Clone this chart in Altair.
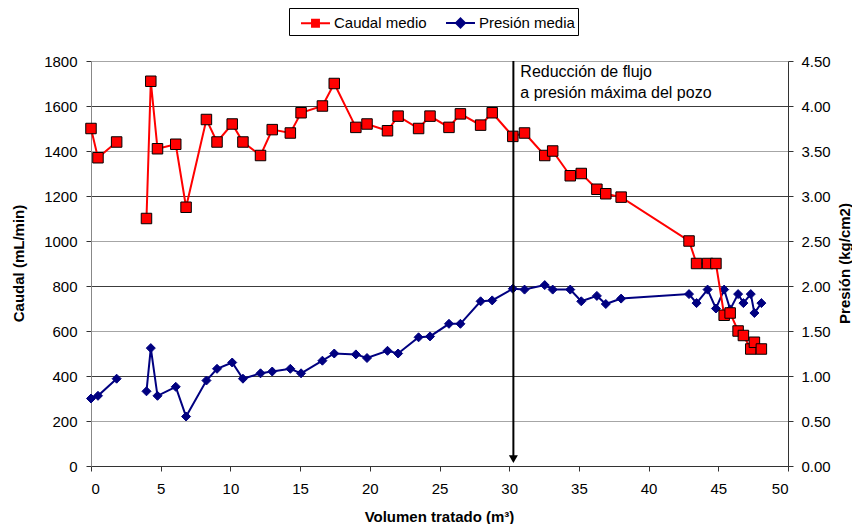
import altair as alt
import pandas as pd

# ---- data ----
volumen = [0, 0.5, 1.84, 3.98, 4.29, 4.77, 6.08, 6.82, 8.28, 9.04, 10.13, 10.9,
           12.16, 13.0, 14.3, 15.07, 16.6, 17.45, 19.0, 19.8, 21.27, 22.03, 23.5,
           24.32, 25.68, 26.5, 27.95, 28.78, 30.26, 31.1, 32.55, 33.12, 34.38,
           35.17, 36.29, 36.93, 38.03, 42.9, 43.44, 44.23, 44.83, 45.42, 45.85,
           46.42, 46.8, 47.33, 47.59, 48.09]
caudal = [1500, 1370, 1440, 1100, 1710, 1410, 1430, 1150, 1540, 1440, 1520, 1440,
          1380, 1495, 1480, 1570, 1600, 1700, 1505, 1520, 1490, 1555, 1500,
          1555, 1505, 1565, 1515, 1570, 1465, 1480, 1380, 1400, 1290,
          1300, 1230, 1210, 1195, 1000, 900, 900, 900, 670, 680,
          600, 580, 520, 550, 520]
presion = [0.75, 0.78, 0.97, 0.83, 1.31, 0.78, 0.88, 0.55, 0.95, 1.08, 1.15, 0.97,
           1.03, 1.05, 1.08, 1.03, 1.17, 1.25, 1.24, 1.20, 1.28, 1.25, 1.43,
           1.44, 1.58, 1.58, 1.83, 1.84, 1.97, 1.96, 2.01, 1.96, 1.96,
           1.83, 1.89, 1.80, 1.86, 1.91, 1.81, 1.96, 1.75, 1.96, 1.74,
           1.91, 1.81, 1.91, 1.70, 1.81]
tramo = [0, 0, 0] + [1] * 45          # line is broken between 1.84 and 3.98

series = ["Caudal medio", "Presión media"]
colores = ["#ff0000", "#000080"]
simbolos = ["M-1.38,0H1.38M-0.33,-0.33H0.33V0.33H-0.33Z",
            "M-1.38,0H1.38M0,-0.43L0.43,0L0,0.43L-0.43,0Z"]

x_ticks = [0, 5, 10, 15, 20, 25, 30, 35, 40, 45, 50]
y_ticks = [0, 200, 400, 600, 800, 1000, 1200, 1400, 1600, 1800]
y2_ticks = [0, 0.5, 1.0, 1.5, 2.0, 2.5, 3.0, 3.5, 4.0, 4.5]

flecha_x = [30.3]
flecha_y = [1800]
flecha_y2 = [31]
nota_x = [30.8, 30.8]
nota_y = [1752, 1656]
nota_txt = ["Reducción de flujo", "a presión máxima del pozo"]

FONT = "Liberation Sans"

df_c = pd.DataFrame({"vol": volumen, "valor": caudal, "tramo": tramo})
df_p = pd.DataFrame({"vol": volumen, "valor": presion, "tramo": tramo})
df_f = pd.DataFrame({"x": flecha_x, "y": flecha_y, "y2": flecha_y2})
df_n = pd.DataFrame({"x": nota_x, "y": nota_y, "t": nota_txt})
df_l = pd.DataFrame({"serie": series})

x_enc = alt.X("vol:Q", scale=alt.Scale(domain=[0, 50], nice=False),
              axis=alt.Axis(values=x_ticks, title="Volumen tratado (m³)", grid=False,
                            titleX=348, titleY=50, titleAlign="center",
                            titleBaseline="middle"))

yc_scale = alt.Scale(domain=[0, 1800], nice=False)
yp_scale = alt.Scale(domain=[0, 4.5], nice=False)

yc_axis = alt.Axis(values=y_ticks, orient="left", title="Caudal (mL/min)",
                   format="d", grid=True,
                   gridColor={"condition": {"test": "datum.value % 400 === 0", "value": "#3c3c3c"},
                              "value": "#a6a6a6"},
                   titleX=-73, titleY=202, titleAngle=-90,
                   titleAlign="center", titleBaseline="middle",
                   labelPadding=9, domainColor="#888888")
yp_axis = alt.Axis(values=y2_ticks, orient="right", title="Presión (kg/cm2)",
                   format=".2f", grid=False, titleX=56, titleY=202,
                   titleAngle=-90, titleAlign="center", titleBaseline="middle",
                   labelPadding=8, domainColor="#333333")

leyenda = alt.Legend(title=None, orient="none", direction="horizontal",
                     legendX=198, legendY=-53, padding=3,
                     strokeColor="#000000", fillColor="#ffffff",
                     symbolSize=441, symbolStrokeWidth=2, symbolOpacity=1,
                     symbolOffset=12,
                     labelFontSize=15, labelFont=FONT, labelColor="#000000",
                     columnPadding=10, labelOffset=7)

# Presión (right axis)
p_line = alt.Chart(df_p).mark_line(color="#000080", strokeWidth=2).encode(
    x=x_enc, y=alt.Y("valor:Q", scale=yp_scale, axis=yp_axis), detail="tramo:N")
p_pts = alt.Chart(df_p).mark_point(shape="diamond", filled=True, size=81,
                                   fill="#000080", stroke="#000080",
                                   strokeWidth=1, opacity=1).encode(
    x="vol:Q", y=alt.Y("valor:Q", scale=yp_scale, axis=yp_axis))
capa_p = alt.layer(p_line, p_pts)

# Caudal (left axis) + annotation
yc = lambda f: alt.Y(f, scale=yc_scale, axis=yc_axis)
c_line = alt.Chart(df_c).mark_line(color="#ff0000", strokeWidth=2).encode(
    x=x_enc, y=yc("valor:Q"), detail="tramo:N")
c_pts = alt.Chart(df_c).mark_point(shape="square", filled=True, size=110,
                                   fill="#ff0000", stroke="#000000",
                                   strokeWidth=1, opacity=1).encode(
    x="vol:Q", y=yc("valor:Q"))
regla = alt.Chart(df_f).mark_rule(color="#000000", strokeWidth=2).encode(
    x="x:Q", y=yc("y:Q"), y2="y2:Q")
punta = alt.Chart(df_f).mark_point(shape="triangle-down", filled=True, size=81,
                                   color="#000000", opacity=1).encode(
    x="x:Q", y=yc("y2:Q"))
nota = alt.Chart(df_n).mark_text(align="left", baseline="middle", font=FONT,
                                 fontSize=16, color="#000000").encode(
    x="x:Q", y=yc("y:Q"), text="t:N")
# legend-only layer (zero-size symbols)
ley = alt.Chart(df_l).mark_point(filled=True, size=0, opacity=1).encode(
    x=alt.value(0), y=alt.value(0),
    color=alt.Color("serie:N", scale=alt.Scale(domain=series, range=colores), legend=leyenda),
    stroke=alt.Stroke("serie:N", scale=alt.Scale(domain=series, range=colores), legend=leyenda),
    shape=alt.Shape("serie:N", scale=alt.Scale(domain=series, range=simbolos), legend=leyenda))
capa_c = alt.layer(c_line, c_pts, regla, punta, nota, ley)

chart = alt.layer(capa_p, capa_c).resolve_scale(y="independent").properties(
    width=697, height=405,
    autosize=alt.AutoSizeParams(type="none"),
    padding={"left": 83, "top": 53, "right": 64, "bottom": 58},
).configure_view(stroke=None).configure_axis(
    labelFont=FONT, labelFontSize=15, labelColor="#000000",
    titleFont=FONT, titleFontSize=15, titleFontWeight="bold", titleColor="#000000",
    tickSize=5, tickColor="#333333", domainColor="#333333",
).configure_axisX(labelPadding=10, domainColor="#333333")

chart.save("out.html", embed_options={"renderer": "svg", "actions": False})
